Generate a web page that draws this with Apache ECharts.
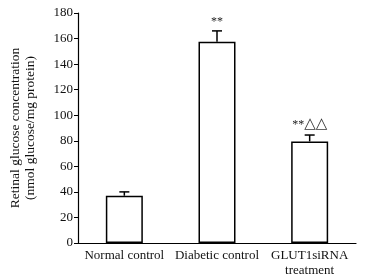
<!DOCTYPE html>
<html>
<head>
<meta charset="utf-8">
<script src="https://cdn.jsdelivr.net/npm/echarts@6/dist/echarts.min.js"></script>
<style>
  html, body { margin: 0; padding: 0; background: #fff; }
  #chart { width: 384px; height: 280px; }
</style>
</head>
<body>
<div id="chart"></div>
<script>
const categories = ['Normal control', 'Diabetic control', 'GLUT1siRNA\ntreatment']
const means = [37, 157.5, 79.5]
const errors = [3, 8.5, 5]
const stars = ['', '**', '**']
const triangles = ['', '', '△△']
const yTicks = { min: 0, max: 180, interval: 20 }

const chart = echarts.init(document.getElementById('chart'))
const font = '"Liberation Serif", "DejaVu Serif", serif'

chart.setOption({
  animation: false,
  grid: { left: 77, right: 28, top: 13, bottom: 37 },
  xAxis: {
    type: 'category',
    data: categories,
    axisLine: { lineStyle: { color: '#000', width: 1.2 } },
    axisTick: { show: false },
    axisLabel: { interval: 0, color: '#111', fontFamily: font, fontSize: 13, margin: 5, lineHeight: 15 }
  },
  yAxis: {
    type: 'value',
    min: yTicks.min,
    max: yTicks.max,
    interval: yTicks.interval,
    name: 'Retinal glucose concentration\n(nmol glucose/mg protein)',
    nameLocation: 'middle',
    nameGap: 40,
    nameTextStyle: { color: '#111', fontFamily: font, fontSize: 13.5, lineHeight: 15 },
    splitLine: { show: false },
    axisLine: { show: true, lineStyle: { color: '#000', width: 1.2 } },
    axisTick: { show: true, length: 4, lineStyle: { color: '#000' } },
    axisLabel: { color: '#111', fontFamily: font, fontSize: 13, margin: 5 }
  },
  series: [
    {
      type: 'bar',
      data: means,
      barWidth: 37,
      itemStyle: { color: '#fff', borderColor: '#000', borderWidth: 1.5 }
    },
    {
      type: 'custom',
      data: means.map((m, i) => [i, m, m + errors[i]]),
      z: 5,
      renderItem: function (params, api) {
        const i = params.dataIndex
        const base = api.coord([api.value(0), api.value(1)])
        const top = api.coord([api.value(0), api.value(2)])
        const half = 5
        let txt = ''
        if (stars[i]) txt += '{s|' + stars[i] + '}'
        if (triangles[i]) txt += '{t|' + triangles[i] + '}'
        return {
          type: 'group',
          children: [
            { type: 'line', shape: { x1: base[0], y1: base[1], x2: top[0], y2: top[1] },
              style: { stroke: '#000', lineWidth: 1.5 } },
            { type: 'line', shape: { x1: top[0] - half, y1: top[1], x2: top[0] + half, y2: top[1] },
              style: { stroke: '#000', lineWidth: 1.5 } },
            { type: 'text', x: top[0], y: top[1] - 3,
              style: { text: txt, align: 'center', verticalAlign: 'bottom',
                rich: {
                  s: { fill: '#222', font: '12px ' + font },
                  t: { fill: '#333', font: '15px "DejaVu Sans", sans-serif' }
                } } }
          ]
        }
      }
    }
  ]
})
</script>
</body>
</html>
